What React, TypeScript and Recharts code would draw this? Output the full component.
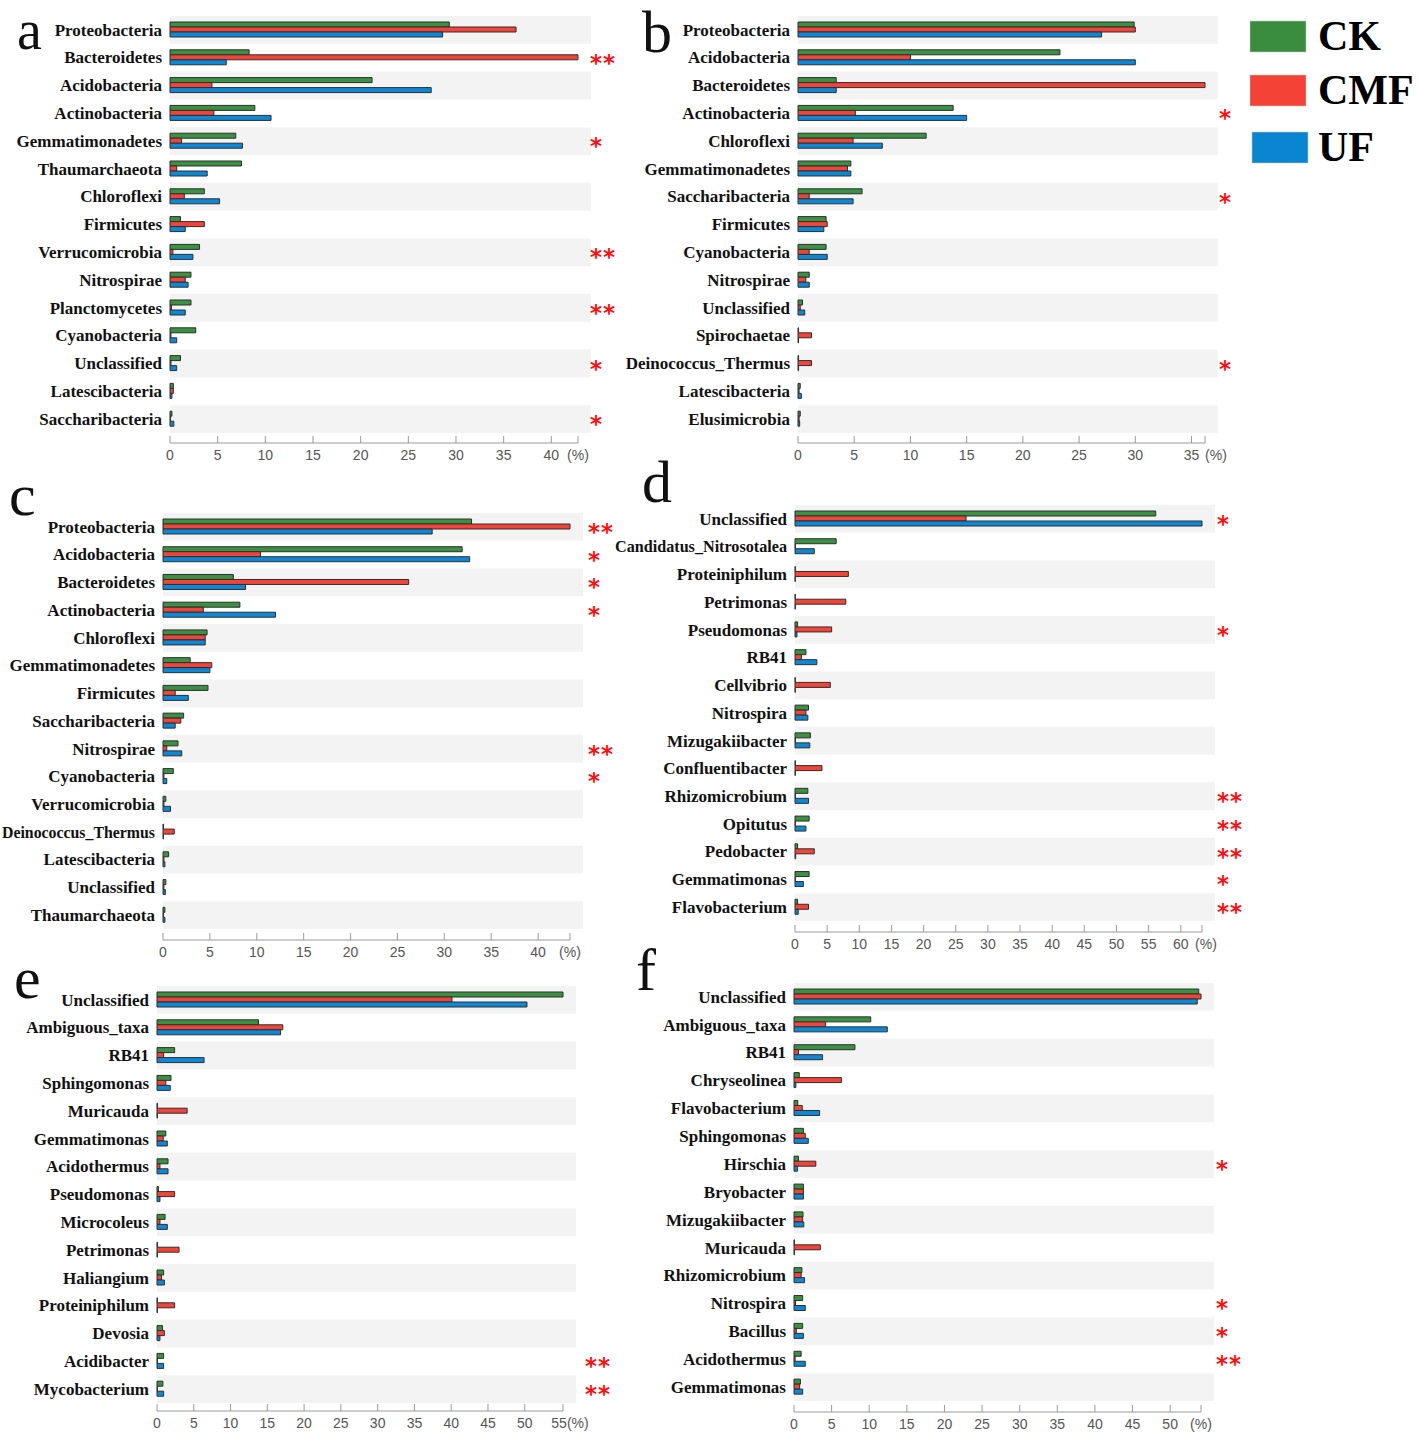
import React from 'react';
import { BarChart, Bar, XAxis, YAxis, ReferenceArea } from 'recharts';

const GREEN = '#3b9142';
const RED = '#f3443a';
const BLUE = '#0e88d4';
const EDGE = '#2e2e2e';

// a – phylum
const aTaxa = ['Proteobacteria', 'Bacteroidetes', 'Acidobacteria', 'Actinobacteria', 'Gemmatimonadetes', 'Thaumarchaeota', 'Chloroflexi', 'Firmicutes', 'Verrucomicrobia', 'Nitrospirae', 'Planctomycetes', 'Cyanobacteria', 'Unclassified', 'Latescibacteria', 'Saccharibacteria'];
const aCK = [29.3, 8.3, 21.2, 8.9, 6.9, 7.5, 3.6, 1.1, 3.1, 2.2, 2.2, 2.7, 1.1, 0.35, 0.2];
const aCMF = [36.3, 42.8, 4.4, 4.6, 1.2, 0.7, 1.5, 3.6, 0.3, 1.6, 0.15, 0.1, 0.1, 0.35, 0.05];
const aUF = [28.6, 5.9, 27.4, 10.6, 7.6, 3.9, 5.2, 1.6, 2.4, 1.9, 1.6, 0.7, 0.7, 0.2, 0.4];
const aSig = ['', '**', '', '', '*', '', '', '', '**', '', '**', '', '*', '', '*'];
const aTicks = [0, 5, 10, 15, 20, 25, 30, 35, 40];

// b – phylum
const bTaxa = ['Proteobacteria', 'Acidobacteria', 'Bacteroidetes', 'Actinobacteria', 'Chloroflexi', 'Gemmatimonadetes', 'Saccharibacteria', 'Firmicutes', 'Cyanobacteria', 'Nitrospirae', 'Unclassified', 'Spirochaetae', 'Deinococcus_Thermus', 'Latescibacteria', 'Elusimicrobia'];
const bCK = [29.9, 23.3, 3.4, 13.8, 11.4, 4.7, 5.7, 2.5, 2.5, 1.0, 0.4, 0.05, 0.05, 0.2, 0.2];
const bCMF = [30.0, 10.0, 36.2, 5.1, 4.9, 4.4, 1.0, 2.6, 1.0, 0.7, 0.2, 1.2, 1.2, 0.1, 0.1];
const bUF = [27.0, 30.0, 3.4, 15.0, 7.5, 4.7, 4.9, 2.3, 2.6, 1.0, 0.6, 0.05, 0.05, 0.3, 0.15];
const bSig = ['', '', '', '*', '', '', '*', '', '', '', '', '', '*', '', ''];
const bTicks = [0, 5, 10, 15, 20, 25, 30, 35];

// c – phylum
const cTaxa = ['Proteobacteria', 'Acidobacteria', 'Bacteroidetes', 'Actinobacteria', 'Chloroflexi', 'Gemmatimonadetes', 'Firmicutes', 'Saccharibacteria', 'Nitrospirae', 'Cyanobacteria', 'Verrucomicrobia', 'Deinococcus_Thermus', 'Latescibacteria', 'Unclassified', 'Thaumarchaeota'];
const cCK = [32.9, 31.9, 7.5, 8.2, 4.7, 2.9, 4.8, 2.2, 1.6, 1.1, 0.3, 0.05, 0.6, 0.3, 0.2];
const cCMF = [43.4, 10.4, 26.2, 4.3, 4.5, 5.2, 1.3, 1.9, 0.4, 0.1, 0.1, 1.2, 0.1, 0.1, 0.05];
const cUF = [28.7, 32.7, 8.8, 12.0, 4.5, 5.0, 2.7, 1.3, 2.0, 0.4, 0.8, 0.05, 0.2, 0.25, 0.2];
const cSig = ['**', '*', '*', '*', '', '', '', '', '**', '*', '', '', '', '', ''];
const cTicks = [0, 5, 10, 15, 20, 25, 30, 35, 40];

// d – genus
const dTaxa = ['Unclassified', 'Candidatus_Nitrosotalea', 'Proteiniphilum', 'Petrimonas', 'Pseudomonas', 'RB41', 'Cellvibrio', 'Nitrospira', 'Mizugakiibacter', 'Confluentibacter', 'Rhizomicrobium', 'Opitutus', 'Pedobacter', 'Gemmatimonas', 'Flavobacterium'];
const dCK = [56.1, 6.4, 0.05, 0.05, 0.4, 1.7, 0.05, 2.1, 2.4, 0.05, 2.0, 2.2, 0.4, 2.2, 0.4];
const dCMF = [26.6, 0.05, 8.3, 7.9, 5.7, 1.0, 5.5, 1.7, 0.05, 4.2, 0.05, 0.05, 3.0, 0.05, 2.1];
const dUF = [63.3, 3.0, 0.05, 0.05, 0.3, 3.4, 0.05, 2.0, 2.3, 0.05, 2.1, 1.7, 0.1, 1.3, 0.5];
const dSig = ['*', '', '', '', '*', '', '', '', '', '', '**', '**', '**', '*', '**'];
const dTicks = [0, 5, 10, 15, 20, 25, 30, 35, 40, 45, 50, 55, 60];

// e – genus
const eTaxa = ['Unclassified', 'Ambiguous_taxa', 'RB41', 'Sphingomonas', 'Muricauda', 'Gemmatimonas', 'Acidothermus', 'Pseudomonas', 'Microcoleus', 'Petrimonas', 'Haliangium', 'Proteiniphilum', 'Devosia', 'Acidibacter', 'Mycobacterium'];
const eCK = [55.2, 13.8, 2.4, 1.9, 0.05, 1.2, 1.5, 0.2, 1.1, 0.05, 0.9, 0.05, 0.75, 0.9, 0.8];
const eCMF = [40.1, 17.1, 0.9, 1.2, 4.1, 0.85, 0.4, 2.4, 0.4, 3.0, 0.6, 2.4, 1.0, 0.05, 0.05];
const eUF = [50.3, 16.8, 6.4, 1.8, 0.05, 1.4, 1.5, 0.4, 1.4, 0.05, 1.0, 0.05, 0.4, 0.9, 0.9];
const eSig = ['', '', '', '', '', '', '', '', '', '', '', '', '', '**', '**'];
const eTicks = [0, 5, 10, 15, 20, 25, 30, 35, 40, 45, 50, 55];

// f – genus
const fTaxa = ['Unclassified', 'Ambiguous_taxa', 'RB41', 'Chryseolinea', 'Flavobacterium', 'Sphingomonas', 'Hirschia', 'Bryobacter', 'Mizugakiibacter', 'Muricauda', 'Rhizomicrobium', 'Nitrospira', 'Bacillus', 'Acidothermus', 'Gemmatimonas'];
const fCK = [53.8, 10.2, 8.1, 0.7, 0.5, 1.25, 0.6, 1.25, 1.2, 0.05, 1.05, 1.15, 1.15, 0.95, 0.85];
const fCMF = [54.1, 4.2, 0.6, 6.3, 1.1, 1.5, 2.9, 1.25, 1.15, 3.5, 0.95, 0.2, 0.3, 0.15, 0.75];
const fUF = [53.6, 12.4, 3.8, 0.25, 3.4, 1.9, 0.45, 1.25, 1.3, 0.05, 1.4, 1.5, 1.25, 1.5, 1.15];
const fSig = ['', '', '', '', '', '', '*', '', '', '', '', '*', '*', '**', ''];
const fTicks = [0, 5, 10, 15, 20, 25, 30, 35, 40, 45, 50];

const NAME_FONT = '"Liberation Serif", "Times New Roman", serif';
const TICK_FONT = '"Liberation Sans", Arial, sans-serif';
const STAR_FONT = '"DejaVu Sans", sans-serif';

let ctx: CanvasRenderingContext2D | null = null;
const textWidth = (s: string) => {
  if (!ctx) ctx = document.createElement('canvas').getContext('2d');
  if (!ctx) return 0;
  ctx.font = `bold 17px ${NAME_FONT}`;
  return ctx.measureText(s).width;
};

const NameTick = (props: any) => {
  const { x, y, payload, maxW } = props;
  const w = textWidth(payload.value);
  const fit = w > maxW ? { textLength: maxW, lengthAdjust: 'spacingAndGlyphs' } : {};
  return (
    <text x={x} y={y} dy="0.34em" textAnchor="end" fontFamily={NAME_FONT} fontWeight="bold" fontSize={17} fill="#111" {...fit}>
      {payload.value}
    </text>
  );
};

// significance marks sit on a second, right-hand category axis
const SigTick = (props: any) => {
  const { x, y, payload, sigOf, dx } = props;
  const s = sigOf[payload.value];
  if (!s) return null;
  return (
    <text x={x + dx} y={y + 13} fontFamily={STAR_FONT} fontWeight="bold" fontSize={23} letterSpacing={1} fill="#ff1010">
      {s}
    </text>
  );
};

const PctTick = (props: any) => {
  const { x, y, payload, endValue, endLabel, endDx } = props;
  const isEnd = payload.value === endValue;
  return (
    <text x={x + (isEnd ? endDx : 0)} y={y + 19} textAnchor="middle" dominantBaseline="central" fontFamily={TICK_FONT} fontSize={14} fill="#555">
      {isEnd ? endLabel : payload.value}
    </text>
  );
};

type PanelProps = {
  taxa: string[];
  ck: number[];
  cmf: number[];
  uf: number[];
  sig: string[];
  ticks: number[];
  plotLeft: number;
  plotRight: number;
  bandTop: number;
  bandBottom: number;
  axisY: number;
  labelMin: number;
  endLabel: string;
  endDx: number;
  sigDx: number;
};

const Y_W = 200;
const SIG_W = 60;
const TOP = 10;
const X_H = 36;

const Panel = (p: PanelProps) => {
  const rows = p.taxa.map((name, i) => ({ name, CK: p.ck[i], CMF: p.cmf[i], UF: p.uf[i] }));
  const sigOf: Record<string, string> = {};
  p.taxa.forEach((t, i) => (sigOf[t] = p.sig[i]));
  const dMax = Math.max(...p.ck, ...p.cmf, ...p.uf);
  const ticks = [...p.ticks.filter((t) => t < dMax - 0.5), dMax];
  const plotW = p.plotRight - p.plotLeft;
  const width = Y_W + plotW + SIG_W;
  const height = TOP + (p.axisY - p.bandTop) + X_H;
  const padB = p.axisY - p.bandBottom;
  const maxW = p.plotLeft - 8 - p.labelMin;
  return (
    <div style={{ position: 'absolute', left: p.plotLeft - Y_W, top: p.bandTop - TOP }}>
      <BarChart
        width={width}
        height={height}
        data={rows}
        layout="vertical"
        barGap={0}
        margin={{ top: TOP, right: 0, bottom: 0, left: 0 }}
      >
        {rows.map((r, i) =>
          i % 2 === 0 ? (
            <ReferenceArea
              key={r.name}
              y1={r.name}
              y2={r.name}
              x1={0}
              x2={dMax * 1.032}
              fill="#f3f3f3"
              fillOpacity={1}
              stroke="none"
              ifOverflow="visible"
            />
          ) : null
        )}
        <XAxis
          type="number"
          domain={[0, dMax]}
          ticks={ticks}
          interval={0}
          height={X_H}
          stroke="#9a9a9a"
          tickSize={-7}
          tickMargin={0}
          tick={(t: any) => <PctTick {...t} endValue={dMax} endLabel={p.endLabel} endDx={p.endDx} />}
        />
        <YAxis
          type="category"
          dataKey="name"
          width={Y_W}
          interval={0}
          tickLine={false}
          axisLine={false}
          padding={{ top: 0, bottom: padB }}
          tick={(t: any) => <NameTick {...t} maxW={maxW} />}
        />
        <YAxis
          yAxisId="sig"
          orientation="right"
          type="category"
          dataKey="name"
          width={SIG_W}
          interval={0}
          tickLine={false}
          axisLine={false}
          padding={{ top: 0, bottom: padB }}
          tick={(t: any) => <SigTick {...t} sigOf={sigOf} dx={p.sigDx - 8} />}
        />
        <Bar dataKey="CK" fill={GREEN} stroke={EDGE} strokeWidth={1} barSize={5} isAnimationActive={false} />
        <Bar dataKey="CMF" fill={RED} stroke={EDGE} strokeWidth={1} barSize={5} isAnimationActive={false} />
        <Bar dataKey="UF" fill={BLUE} stroke={EDGE} strokeWidth={1} barSize={5} isAnimationActive={false} />
      </BarChart>
    </div>
  );
};

const letters = [
  { t: 'a', x: 17, y: 49, s: 56 },
  { t: 'b', x: 642, y: 52, s: 60 },
  { t: 'c', x: 9, y: 515, s: 60 },
  { t: 'd', x: 642, y: 502, s: 60 },
  { t: 'e', x: 14, y: 998, s: 60 },
  { t: 'f', x: 636, y: 990, s: 60 },
];

const legend = [
  { name: 'CK', color: '#3a8c3f', x: 1250, y: 21 },
  { name: 'CMF', color: '#f44336', x: 1250, y: 75 },
  { name: 'UF', color: '#0a86d0', x: 1252, y: 132 },
];

export default function App() {
  return (
    <div style={{ position: 'absolute', left: 0, top: 0, width: 1418, height: 1439, background: '#fff', overflow: 'hidden' }}>
      <Panel taxa={aTaxa} ck={aCK} cmf={aCMF} uf={aUF} sig={aSig} ticks={aTicks}
        plotLeft={170} plotRight={578} bandTop={16} bandBottom={433} axisY={443} labelMin={10} endLabel="(%)" endDx={0} sigDx={12} />
      <Panel taxa={bTaxa} ck={bCK} cmf={bCMF} uf={bUF} sig={bSig} ticks={bTicks}
        plotLeft={798} plotRight={1205} bandTop={16} bandBottom={433} axisY={443} labelMin={624} endLabel="(%)" endDx={11} sigDx={14} />
      <Panel taxa={cTaxa} ck={cCK} cmf={cCMF} uf={cUF} sig={cSig} ticks={cTicks}
        plotLeft={163} plotRight={570} bandTop={513} bandBottom={929} axisY={940} labelMin={2} endLabel="(%)" endDx={0} sigDx={18} />
      <Panel taxa={dTaxa} ck={dCK} cmf={dCMF} uf={dUF} sig={dSig} ticks={dTicks}
        plotLeft={795} plotRight={1202} bandTop={505} bandBottom={921} axisY={932} labelMin={615} endLabel="(%)" endDx={4} sigDx={15} />
      <Panel taxa={eTaxa} ck={eCK} cmf={eCMF} uf={eUF} sig={eSig} ticks={eTicks}
        plotLeft={157} plotRight={563} bandTop={986} bandBottom={1403} axisY={1411} labelMin={20} endLabel="55(%)" endDx={7} sigDx={22} />
      <Panel taxa={fTaxa} ck={fCK} cmf={fCMF} uf={fUF} sig={fSig} ticks={fTicks}
        plotLeft={794} plotRight={1201} bandTop={983} bandBottom={1401} axisY={1412} labelMin={660} endLabel="(%)" endDx={0} sigDx={15} />
      <svg width={1418} height={1439} style={{ position: 'absolute', left: 0, top: 0, pointerEvents: 'none' }}>
        {letters.map((l) => (
          <text key={l.t} x={l.x} y={l.y} fontFamily={NAME_FONT} fontSize={l.s} fill="#111">
            {l.t}
          </text>
        ))}
        {legend.map((g) => (
          <g key={g.name}>
            <rect x={g.x} y={g.y} width={56} height={31} fill={g.color} stroke="#ccc" strokeWidth={0.5} />
            <text x={1318} y={g.y + 29} fontFamily={NAME_FONT} fontWeight="bold" fontSize={42} fill="#000">
              {g.name}
            </text>
          </g>
        ))}
      </svg>
    </div>
  );
}
